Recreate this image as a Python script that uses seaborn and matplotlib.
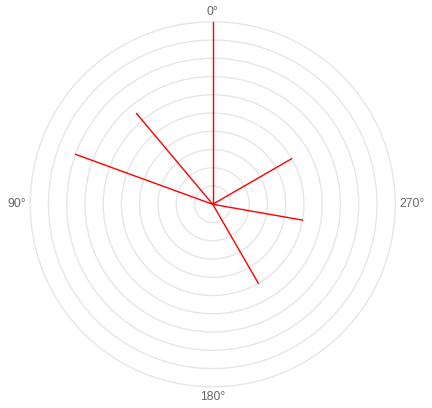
import numpy as np
import pandas as pd
import matplotlib
matplotlib.use("Agg")
import matplotlib.pyplot as plt
import seaborn as sns

# segment directions (degrees) and lengths
angles = [0, 40, 70, 300, 260, 210]
lengths = [10, 6.5, 8, 5, 5, 5]
tick_angles = [0, 90, 180, 270]
tick_labels = ["0°", "90°", "180°", "270°"]
rings = list(range(1, 11))

sns.set_style("white")
plt.rcParams["font.family"] = ["Liberation Sans", "DejaVu Sans"]

# each segment goes from the origin out to its point
rows = []
for i, (a, r) in enumerate(zip(angles, lengths)):
    rows.append({"seg": i, "theta": np.deg2rad(a), "r": 0})
    rows.append({"seg": i, "theta": np.deg2rad(a), "r": r})
df = pd.DataFrame(rows)

fig = plt.figure(figsize=(4.32, 4.08), dpi=100)
ax = fig.add_axes([0.0699, 0.052, 0.845, 0.8946], projection="polar")
ax.set_theta_zero_location("N")
ax.set_theta_direction(1)

sns.lineplot(data=df, x="theta", y="r", units="seg", estimator=None,
             sort=False, color="red", linewidth=1, ax=ax, legend=False)

ax.set_ylim(0, 10)
ax.set_rgrids(rings, labels=[""] * len(rings))
ax.set_thetagrids(tick_angles, labels=tick_labels)
ax.yaxis.grid(True, color="#e6e6e6", linewidth=1)
for gl in ax.yaxis.get_gridlines():
    gl.set_clip_on(False)
ax.xaxis.grid(False)
ax.spines["polar"].set_visible(False)
ax.tick_params(axis="x", pad=-7.5, labelsize=8.7, labelcolor="#666666")

# labels sit just outside the outer ring, anchored by their near edge
align = {"0°": ("center", "bottom"), "90°": ("right", "center"),
         "180°": ("center", "top"), "270°": ("left", "center")}
for lab in ax.get_xticklabels():
    ha, va = align[lab.get_text()]
    lab.set_ha(ha)
    lab.set_va(va)
ax.set_xlabel("")
ax.set_ylabel("")

fig.savefig("out.png", dpi=100)
